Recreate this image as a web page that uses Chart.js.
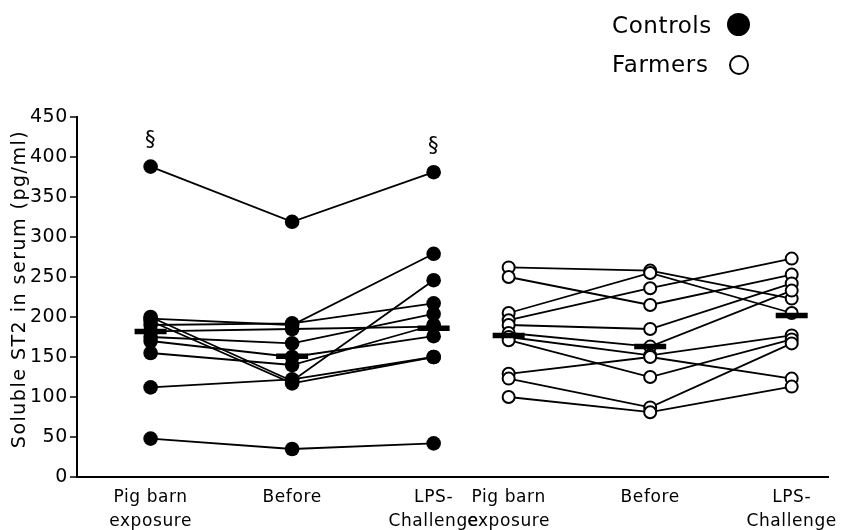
<!DOCTYPE html>
<html lang="en">
<head>
    <meta charset="UTF-8">
    <title>Soluble ST2 in serum</title>
    <script src="https://cdn.jsdelivr.net/npm/chart.js"></script>
    <style>
        body { margin: 0; background: #fff; }
        #wrap { position: relative; width: 850px; height: 530px; }
        #myChart { position: absolute; left: 0; top: 0; }
        .leg { position: absolute; left: 612px; font-family: 'DejaVu Sans', sans-serif; font-size: 23px; letter-spacing: 0.6px; color: #000; line-height: 26px; }
        .dot { position: absolute; border-radius: 50%; box-sizing: border-box; }
    </style>
</head>
<body>
<div id="wrap">
    <canvas id="myChart" width="850" height="530"></canvas>
    <div class="leg" style="top:12px">Controls</div>
    <div class="dot" style="left:727px; top:13px; width:23px; height:23px; background:#000;"></div>
    <div class="leg" style="top:51px">Farmers</div>
    <div class="dot" style="left:729px; top:55px; width:20px; height:20px; border:2px solid #000; background:#fff;"></div>
</div>

<script>
    // tidspunkter og aksetekster
    let timepoints = ['Pig barn exposure', 'Before', 'LPS-Challenge'];
    let tickLabels = [['Pig barn', 'exposure'], ['Before'], ['LPS-', 'Challenge']];
    let yTitle = 'Soluble ST2 in serum (pg/ml)';

    // kontroller, en vaerdi pr. person (pg/ml)
    let controlsPigBarn = [388, 198, 200, 195, 190, 182, 175, 170, 155, 112, 48];
    let controlsBefore  = [319, 190, 120, 117, 192, 185, 167, 150, 140, 122, 35];
    let controlsLps     = [381, 279, 246, 150, 217, 188, 204, 176, 190, 150, 42];

    // landmaend
    let farmersPigBarn = [262, 250, 205, 196, 190, 180, 175, 171, 129, 123, 100];
    let farmersBefore  = [258, 215, 255, 236, 185, 163, 152, 125, 150, 87, 81];
    let farmersLps     = [223, 253, 205, 273, 242, 233, 177, 172, 123, 167, 113];

    // vandrette streger (medianer aflaest fra figuren)
    let controlsMedian = [182, 151, 186];
    let farmersMedian  = [177, 163, 202];

    // § over kontrollerne ved disse tidspunkter
    let sigMarks = ['Pig barn exposure', 'LPS-Challenge'];

    // placering af grupperne paa x-aksen
    let groupOffset = [0, 2.53];
    let xPositions = [];
    groupOffset.forEach(g => timepoints.forEach((t, i) => xPositions.push(g + i)));

    function subjectLines(cols, offset, order) {
        let sets = [];
        for (let s = 0; s < cols[0].length; s++) {
            sets.push({
                type: 'line',
                data: cols.map((c, i) => ({ x: offset + i, y: c[s] })),
                borderColor: '#000',
                borderWidth: 1.8,
                pointRadius: 0,
                fill: false,
                order: order
            });
        }
        return sets;
    }

    function subjectPoints(cols, offset) {
        let pts = [];
        cols.forEach((c, i) => c.forEach(v => pts.push({ x: offset + i, y: v })));
        return pts;
    }

    let controlCols = [controlsPigBarn, controlsBefore, controlsLps];
    let farmerCols = [farmersPigBarn, farmersBefore, farmersLps];

    let datasets = []
        .concat(subjectLines(controlCols, groupOffset[0], 3))
        .concat(subjectLines(farmerCols, groupOffset[1], 3));

    datasets.push({
        type: 'scatter',
        data: subjectPoints(controlCols, groupOffset[0]),
        pointRadius: 7.3,
        pointBackgroundColor: '#000',
        pointBorderColor: '#000',
        pointBorderWidth: 0,
        order: 2
    });
    datasets.push({
        type: 'scatter',
        data: subjectPoints(farmerCols, groupOffset[1]),
        pointRadius: 6,
        pointBackgroundColor: '#fff',
        pointBorderColor: '#000',
        pointBorderWidth: 2,
        order: 2
    });
    datasets.push({
        type: 'scatter',
        data: controlsMedian.map((v, i) => ({ x: groupOffset[0] + i, y: v }))
            .concat(farmersMedian.map((v, i) => ({ x: groupOffset[1] + i, y: v }))),
        pointStyle: 'line',
        pointRadius: 16,
        borderColor: '#000',
        pointBorderColor: '#000',
        pointBorderWidth: 5.5,
        order: 1
    });

    // ekstra tegning: korte/lange streger paa y-aksen, aksetitel og §
    const extraDraw = {
        id: 'extraDraw',
        beforeDraw(chart) {
            chart.ctx.letterSpacing = '0.6px';
        },
        afterDraw(chart) {
            let ctx = chart.ctx;
            let ys = chart.scales.y;
            let xs = chart.scales.x;
            ctx.save();
            ctx.strokeStyle = '#000';
            ctx.lineWidth = 1.5;
            ys.ticks.forEach(t => {
                let py = ys.getPixelForValue(t.value);
                let len = t.value % 50 === 0 ? 7 : 3;
                ctx.beginPath();
                ctx.moveTo(ys.right - len, py);
                ctx.lineTo(ys.right, py);
                ctx.stroke();
            });

            ctx.fillStyle = '#000';
            ctx.font = '21px "DejaVu Sans"';
            ctx.textAlign = 'center';
            ctx.textBaseline = 'middle';
            sigMarks.forEach(name => {
                let i = timepoints.indexOf(name);
                let top = Math.max(...controlCols[i]);
                ctx.fillText('§', xs.getPixelForValue(groupOffset[0] + i), ys.getPixelForValue(top) - 26);
            });

            ctx.font = '19px "DejaVu Sans"';
            ctx.letterSpacing = '1.5px';
            ctx.translate(20, (chart.chartArea.top + chart.chartArea.bottom) / 2 - 8);
            ctx.rotate(-Math.PI / 2);
            ctx.fillText(yTitle, 0, 0);
            ctx.restore();
        }
    };

    let ctx = document.getElementById('myChart').getContext('2d');
    let myChart = new Chart(ctx, {
        data: { datasets: datasets },
        options: {
            responsive: false,
            animation: false,
            layout: { padding: { top: 117, right: 0, left: 0, bottom: 0 } },
            plugins: {
                legend: { display: false },
                tooltip: { enabled: false }
            },
            scales: {
                x: {
                    type: 'linear',
                    min: -0.52,
                    max: 4.79,
                    grid: { display: false, drawTicks: false },
                    border: { display: true, color: '#000', width: 2 },
                    afterBuildTicks: scale => {
                        scale.ticks = xPositions.map(v => ({ value: v }));
                    },
                    afterFit: scale => {
                        scale.height = 53;
                        scale.paddingLeft = 0;
                        scale.paddingRight = 0;
                    },
                    ticks: {
                        autoSkip: false,
                        maxRotation: 0,
                        padding: 9,
                        color: '#000',
                        font: { family: 'DejaVu Sans', size: 17, lineHeight: 1.38 },
                        callback: (value, index) => tickLabels[index % 3]
                    }
                },
                y: {
                    min: 0,
                    max: 450,
                    grid: { display: false, drawTicks: false },
                    border: { display: true, color: '#000', width: 2 },
                    afterFit: scale => { scale.width = 77; },
                    ticks: {
                        stepSize: 25,
                        padding: 9,
                        color: '#000',
                        font: { family: 'DejaVu Sans', size: 19 },
                        callback: v => (v % 50 === 0 ? v : '')
                    }
                }
            }
        },
        plugins: [extraDraw]
    });
</script>
</body>
</html>
